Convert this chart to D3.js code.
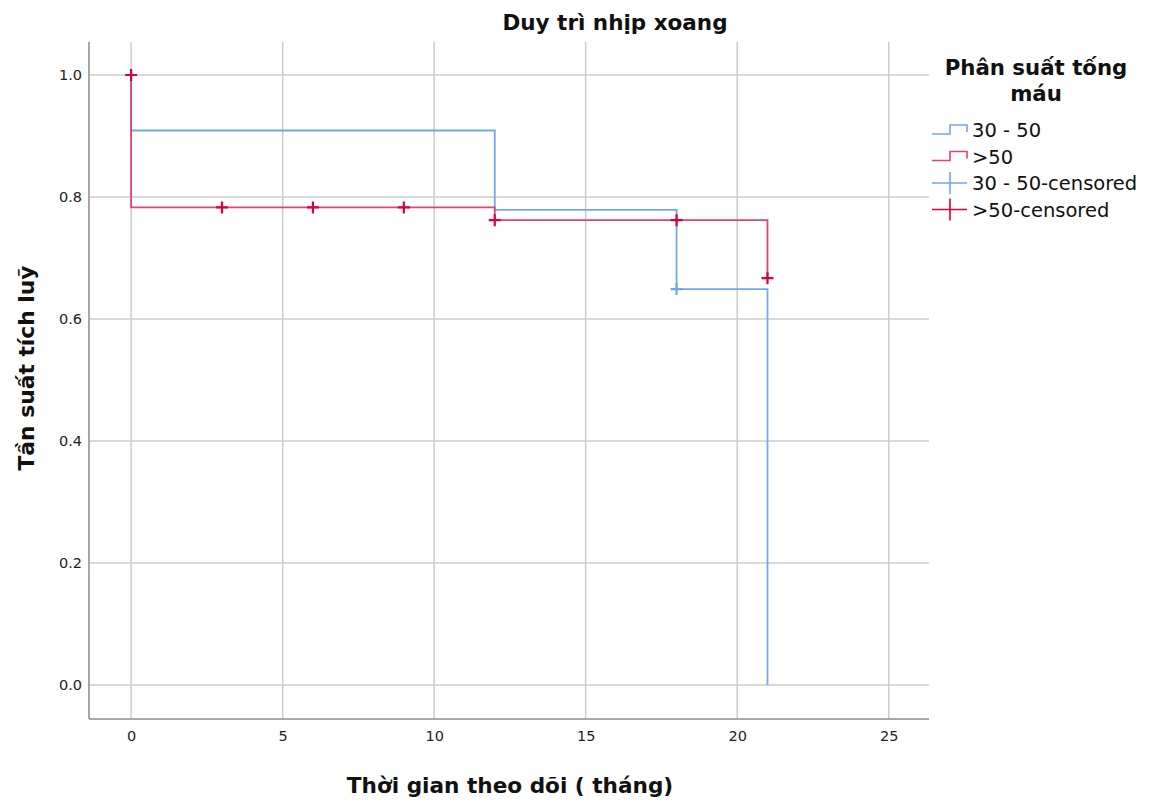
<!DOCTYPE html>
<html><head><meta charset="utf-8">
<script src="https://cdn.jsdelivr.net/npm/d3@7"></script>
<style>body{margin:0;background:#fff;font-family:"DejaVu Sans",sans-serif;}</style>
</head><body>
<svg id="c" width="1152" height="803"></svg>
<script>
const groups = ["30 - 50", ">50"];
// Kaplan-Meier step points [time, survival]
const blueSteps = [[0,1.0],[0,0.909],[12,0.909],[12,0.779],[18,0.779],[18,0.649],[21,0.649],[21,0.0]];
const redSteps  = [[0,1.0],[0,0.783],[12,0.783],[12,0.762],[18,0.762],[21,0.762],[21,0.667]];
const blueCensored = [[18,0.649]];
const redCensored  = [[0,1.0],[3,0.783],[6,0.783],[9,0.783],[12,0.762],[18,0.762],[21,0.667]];
const xTicks = [0,5,10,15,20,25];
const yTicks = [0.0,0.2,0.4,0.6,0.8,1.0];
const legendLabels = ["30 - 50", ">50", "30 - 50-censored", ">50-censored"];

const BLUE = "#74a6ea", RED = "#e2456b", REDM = "#d9003b";
const svg = d3.select("#c");
const L = 89, R = 929, T = 42, B = 719;
const x = d3.scaleLinear().domain([-1.39, 26.33]).range([L, R]);
const y = d3.scaleLinear().domain([-0.0557, 1.0541]).range([B, T]);

// gridlines
svg.append("g").selectAll("line").data(xTicks).join("line")
  .attr("x1", d => x(d)).attr("x2", d => x(d)).attr("y1", T).attr("y2", B)
  .attr("stroke", "#cccccc").attr("stroke-width", 1.5);
svg.append("g").selectAll("line").data(yTicks).join("line")
  .attr("x1", L).attr("x2", R).attr("y1", d => y(d)).attr("y2", d => y(d))
  .attr("stroke", "#cccccc").attr("stroke-width", 1.5);

// axes
const xa = svg.append("g").attr("transform", `translate(0,${B})`)
  .call(d3.axisBottom(x).tickValues(xTicks).tickSize(0).tickPadding(12).tickFormat(d3.format("d")));
const ya = svg.append("g").attr("transform", `translate(${L},0)`)
  .call(d3.axisLeft(y).tickValues(yTicks).tickSize(0).tickPadding(7).tickFormat(d3.format(".1f")));
[xa, ya].forEach(a => {
  a.attr("font-size", null).attr("font-family", null);
  a.select(".domain").attr("stroke", "#8a8a8a").attr("stroke-width", 1.5);
  a.selectAll("text").style("font-family", "DejaVu Sans").style("font-size", "14.5px").attr("fill", "#222");
});
xa.select(".domain").attr("d", `M${L},0H${R}`);
ya.select(".domain").attr("d", `M0,${T}V${B}`);

// lines
const line = d3.line().x(d => x(d[0])).y(d => y(d[1]));
svg.append("path").datum(blueSteps).attr("d", line).attr("fill", "none")
  .attr("stroke", BLUE).attr("stroke-width", 1.8);
svg.append("path").datum(redSteps).attr("d", line).attr("fill", "none")
  .attr("stroke", RED).attr("stroke-width", 1.8);

function cross(g, data, color) {
  const s = 6;
  g.selectAll("path").data(data).join("path")
    .attr("d", d => `M${x(d[0]) - s},${y(d[1])}H${x(d[0]) + s}M${x(d[0])},${y(d[1]) - s}V${y(d[1]) + s}`)
    .attr("stroke", color).attr("stroke-width", 2.2).attr("fill", "none");
}
cross(svg.append("g"), blueCensored, BLUE);
cross(svg.append("g"), redCensored, REDM);

// title
svg.append("text").attr("x", 615).attr("y", 30).attr("text-anchor", "middle")
  .attr("font-family", "DejaVu Sans").attr("font-weight", "bold").attr("font-size", 21.5)
  .attr("fill", "#111").text("Duy trì nhịp xoang");
// axis titles
svg.append("text").attr("x", 510).attr("y", 793).attr("text-anchor", "middle")
  .attr("font-family", "DejaVu Sans").attr("font-weight", "bold").attr("font-size", 21.6)
  .attr("fill", "#111").text("Thời gian theo dõi ( tháng)");
svg.append("text").attr("transform", "translate(34,368) rotate(-90)").attr("text-anchor", "middle")
  .attr("font-family", "DejaVu Sans").attr("font-weight", "bold").attr("font-size", 21.8)
  .attr("fill", "#111").text("Tần suất tích luỹ");

// legend
const lg = svg.append("g");
lg.append("text").attr("x", 1036).attr("y", 75).attr("text-anchor", "middle")
  .attr("font-family", "DejaVu Sans").attr("font-weight", "bold").attr("font-size", 21.3)
  .attr("fill", "#111").text("Phân suất tống");
lg.append("text").attr("x", 1036).attr("y", 101).attr("text-anchor", "middle")
  .attr("font-family", "DejaVu Sans").attr("font-weight", "bold").attr("font-size", 21.3)
  .attr("fill", "#111").text("máu");
const colors = [BLUE, RED, BLUE, REDM];
legendLabels.forEach((lab, i) => {
  const cy = 130 + i * 26.5;
  const c = colors[i];
  if (i < 2) {
    lg.append("path").attr("d", `M932,${cy + 4}H950V${cy - 5}H967V${cy + 2}`)
      .attr("fill", "none").attr("stroke", c).attr("stroke-width", 1.6);
  } else {
    lg.append("path").attr("d", `M932,${cy}H967M950,${cy - 11}V${cy + 11}`)
      .attr("fill", "none").attr("stroke", c).attr("stroke-width", 1.6);
  }
  lg.append("text").attr("x", 972).attr("y", cy + 7)
    .attr("font-family", "DejaVu Sans").attr("font-size", 19.5).attr("fill", "#111").text(lab);
});
</script>
</body></html>
